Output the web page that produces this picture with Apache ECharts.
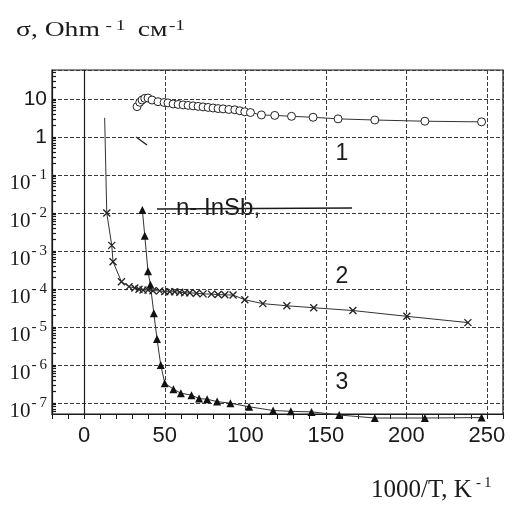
<!DOCTYPE html>
<html><head><meta charset="utf-8">
<script src="https://cdn.jsdelivr.net/npm/echarts@6/dist/echarts.min.js"></script>
<style>html,body{margin:0;padding:0;background:#fff}#c{width:516px;height:505px}</style>
</head><body><div id="c"></div>
<script>
// ---- data ----
const xMin = -20, xMax = 260;
const yMin = 5.1e-8, yMax = 58;
// curve 1 (open circles)
const s1x = [32.8,34.5,35.9,37.6,39.6,42.1,45.8,49.6,52.0,55.2,58.3,61.4,64.5,67.6,70.7,73.8,76.9,80.0,83.1,86.2,89.8,93.5,96.6,99.7,103.2,110.0,118.3,128.7,142.1,157.6,180.4,211.5,246.7];
const s1y = [6.3,8.2,9.4,10.4,10.6,9.4,8.5,8.1,7.9,7.4,7.2,7.0,6.8,6.6,6.4,6.2,6.0,5.8,5.6,5.5,5.3,5.2,4.9,4.6,4.4,3.8,3.7,3.5,3.3,3.0,2.8,2.6,2.5];
// curve 2 (crosses); first point is the line start without marker
const s2x = [12.7,14.0,17.1,17.9,23.1,27.8,31.4,34.0,36.5,39.6,42.7,46.9,50.0,53.1,56.2,59.3,62.4,65.5,69.7,73.8,79.0,83.1,87.3,92.4,99.7,110.9,125.8,142.5,166.8,200.3,238.2];
const s2y = [3.2,1.0e-2,1.4e-3,5.2e-4,1.55e-4,1.15e-4,1.06e-4,9.8e-5,9.4e-5,9.3e-5,9.0e-5,8.9e-5,8.5e-5,8.4e-5,8.4e-5,8.2e-5,7.9e-5,7.9e-5,7.7e-5,7.4e-5,7.3e-5,7.1e-5,7.0e-5,6.9e-5,5.2e-5,4.1e-5,3.6e-5,3.2e-5,2.7e-5,1.9e-5,1.3e-5];
// curve 3 (filled triangles)
const s3x = [36.1,37.6,39.6,41.1,43.2,45.2,47.5,50.0,55.4,60.0,66.6,71.3,76.3,82.5,90.8,102.4,117.3,128.3,141.1,158.3,180.4,211.5,246.7];
const s3y = [1.2e-2,2.5e-3,2.9e-4,1.28e-4,2.3e-5,4.8e-6,1.0e-6,3.3e-7,2.3e-7,1.8e-7,1.6e-7,1.3e-7,1.25e-7,1.08e-7,9.8e-8,7.9e-8,6.3e-8,6.0e-8,5.8e-8,4.8e-8,4.0e-8,4.0e-8,4.1e-8];
const curveLabels = ['1','2','3'];
const noteText = 'n- InSb,';

const pairs = (xs, ys) => xs.map((x, i) => [x, ys[i]]);
const d2 = pairs(s2x, s2y).map((p, i) => i === 0 ? {value: p, symbol: 'none'} : p);

// log-axis ticks: 1..9 x 10^n inside the axis range
const yTickValues = [];
for (let e = -8; e <= 1; e++) for (let k = 1; k <= 9; k++) {
  const v = k * Math.pow(10, e);
  if (v > yMin && v < yMax) yTickValues.push(v);
}

const chart = echarts.init(document.getElementById('c'), null, {renderer: 'canvas'});
const ink = '#1a1a1a';
const gridLine = {show: true, lineStyle: {color: '#3a3a3a', width: 1, type: [4, 2]}};
const TS = '\u2009';

chart.setOption({
  backgroundColor: '#fff',
  animation: false,
  grid: {left: 52, right: 13, top: 70, bottom: 91, show: true, borderColor: ink, borderWidth: 1.2, backgroundColor: 'transparent'},
  xAxis: {
    type: 'value', min: xMin, max: xMax, splitNumber: 6,
    axisLine: {lineStyle: {color: ink, width: 1.2}},
    axisTick: {show: true, inside: false, length: 5, lineStyle: {color: ink}},
    minorTick: {show: true, splitNumber: 5, length: 5, lineStyle: {color: ink}},
    splitLine: gridLine,
    axisLabel: {showMinLabel: false, showMaxLabel: false, margin: 11, color: ink, fontFamily: 'Liberation Sans', fontSize: 22}
  },
  yAxis: [{
    type: 'log', logBase: 10, min: yMin, max: yMax, splitNumber: 10,
    axisLine: {onZero: true, lineStyle: {color: ink, width: 1.2}},
    axisTick: {show: false},
    splitLine: gridLine,
    axisLabel: {
      showMinLabel: false, showMaxLabel: false, margin: 5, color: ink,
      formatter: v => {
        const l = Math.log10(v), e = Math.round(l);
        if (Math.abs(l - e) > 0.01) return '';
        if (e === 1) return '{a|10}';
        if (e === 0) return '{a|1}';
        return '{b|10}{s|-' + TS + (-e) + '}';
      },
      rich: {
        a: {fontFamily: 'Liberation Sans', fontSize: 21, color: ink},
        b: {fontFamily: 'Liberation Serif', fontSize: 21, color: ink, padding: [18, 0, 0, 0]},
        s: {fontFamily: 'Liberation Serif', fontSize: 15, color: ink, padding: [0, 0, 0, 1]}
      }
    }
  }, {
    // identical log scale on the left frame, carrying the 1..9 x 10^n ticks
    type: 'log', logBase: 10, min: yMin, max: yMax, position: 'left', offset: 0, splitNumber: 10,
    axisLine: {show: true, onZero: false, lineStyle: {color: ink, width: 1.2}},
    axisLabel: {show: false}, splitLine: {show: false},
    axisTick: {show: true, inside: true, length: 4, customValues: yTickValues, lineStyle: {color: ink, width: 1.2}}
  }],
  series: [
    {type: 'line', data: pairs(s1x, s1y), symbol: 'circle', symbolSize: 8,
     lineStyle: {color: '#333', width: 1}, itemStyle: {color: '#fff', borderColor: '#222', borderWidth: 1}},
    {type: 'line', data: d2, symbol: 'path://M0 0L10 10M10 0L0 10', symbolSize: 7,
     lineStyle: {color: '#333', width: 1}, itemStyle: {color: 'rgba(0,0,0,0)', borderColor: '#222', borderWidth: 1.3}},
    {type: 'line', yAxisIndex: 1, data: pairs(s3x, s3y), symbol: 'triangle', symbolSize: 8, clip: false,
     lineStyle: {color: '#333', width: 1}, itemStyle: {color: '#111'}}
  ],
  graphic: [
    {type: 'text', x: 16, y: 43, scaleX: 1.38, style: {
      text: '{t|σ, Ohm}{s|-' + TS + '1}{t|см}{u|-1}', verticalAlign: 'bottom',
      rich: {
        t: {fontFamily: 'Liberation Serif', fontSize: 20, fill: ink},
        s: {fontFamily: 'Liberation Serif', fontSize: 14, fill: ink, padding: [0, 9, 10, 4]},
        u: {fontFamily: 'Liberation Serif', fontSize: 14, fill: ink, padding: [0, 0, 10, 1]}
      }
    }},
    {type: 'text', x: 371, y: 505, style: {
      text: '{t|1000/T, K}{s|-' + TS + '1}', verticalAlign: 'bottom',
      rich: {
        t: {fontFamily: 'Liberation Serif', fontSize: 25, fill: ink},
        s: {fontFamily: 'Liberation Serif', fontSize: 15, fill: ink, padding: [0, 0, 14, 4]}
      }
    }},
    {type: 'text', x: 342, y: 154, style: {text: curveLabels[0], font: '23px "Liberation Sans"', fill: ink, align: 'center', verticalAlign: 'middle'}},
    {type: 'text', x: 342, y: 277, style: {text: curveLabels[1], font: '23px "Liberation Sans"', fill: ink, align: 'center', verticalAlign: 'middle'}},
    {type: 'text', x: 342, y: 383, style: {text: curveLabels[2], font: '23px "Liberation Sans"', fill: ink, align: 'center', verticalAlign: 'middle'}},
    {type: 'line', shape: {x1: 157, y1: 209, x2: 352, y2: 208}, style: {stroke: ink, lineWidth: 1.5}},
    {type: 'text', x: 176, y: 208, style: {text: noteText, font: '24px "Liberation Sans"', fill: ink, align: 'left', verticalAlign: 'middle'}},
    {type: 'line', shape: {x1: 136, y1: 137, x2: 147, y2: 145}, style: {stroke: ink, lineWidth: 1.2}}
  ]
});
</script></body></html>
